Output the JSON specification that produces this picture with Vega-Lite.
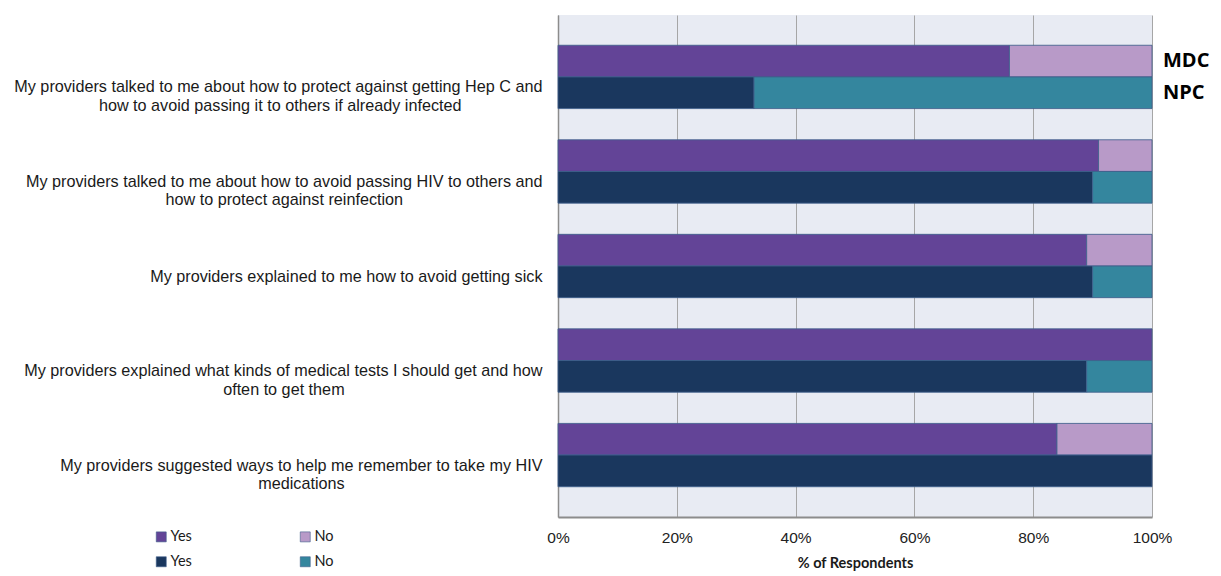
{
  "$schema": "https://vega.github.io/schema/vega-lite/v6.json",
  "width": 594,
  "height": 502,
  "autosize": {"type": "none"},
  "padding": {"left": 558, "top": 15, "right": 69, "bottom": 59},
  "background": "#ffffff",
  "config": {
    "font": "Liberation Sans",
    "view": {"fill": "#e8ebf3", "stroke": null}
  },
  "datasets": {
    "responses": [
      {"question": "My providers talked to me about how to protect against getting Hep C and|how to avoid passing it to others if already infected", "site": "MDC", "answer": "Yes", "series": "MDC Yes", "pct": 76},
      {"question": "My providers talked to me about how to protect against getting Hep C and|how to avoid passing it to others if already infected", "site": "MDC", "answer": "No", "series": "MDC No", "pct": 24},
      {"question": "My providers talked to me about how to protect against getting Hep C and|how to avoid passing it to others if already infected", "site": "NPC", "answer": "Yes", "series": "NPC Yes", "pct": 33},
      {"question": "My providers talked to me about how to protect against getting Hep C and|how to avoid passing it to others if already infected", "site": "NPC", "answer": "No", "series": "NPC No", "pct": 67},
      {"question": "My providers talked to me about how to avoid passing HIV to others and|how to protect against reinfection", "site": "MDC", "answer": "Yes", "series": "MDC Yes", "pct": 91},
      {"question": "My providers talked to me about how to avoid passing HIV to others and|how to protect against reinfection", "site": "MDC", "answer": "No", "series": "MDC No", "pct": 9},
      {"question": "My providers talked to me about how to avoid passing HIV to others and|how to protect against reinfection", "site": "NPC", "answer": "Yes", "series": "NPC Yes", "pct": 90},
      {"question": "My providers talked to me about how to avoid passing HIV to others and|how to protect against reinfection", "site": "NPC", "answer": "No", "series": "NPC No", "pct": 10},
      {"question": "My providers explained to me how to avoid getting sick", "site": "MDC", "answer": "Yes", "series": "MDC Yes", "pct": 89},
      {"question": "My providers explained to me how to avoid getting sick", "site": "MDC", "answer": "No", "series": "MDC No", "pct": 11},
      {"question": "My providers explained to me how to avoid getting sick", "site": "NPC", "answer": "Yes", "series": "NPC Yes", "pct": 90},
      {"question": "My providers explained to me how to avoid getting sick", "site": "NPC", "answer": "No", "series": "NPC No", "pct": 10},
      {"question": "My providers explained what kinds of medical tests I should get and how|often to get them", "site": "MDC", "answer": "Yes", "series": "MDC Yes", "pct": 100},
      {"question": "My providers explained what kinds of medical tests I should get and how|often to get them", "site": "NPC", "answer": "Yes", "series": "NPC Yes", "pct": 89},
      {"question": "My providers explained what kinds of medical tests I should get and how|often to get them", "site": "NPC", "answer": "No", "series": "NPC No", "pct": 11},
      {"question": "My providers suggested ways to help me remember to take my HIV|medications", "site": "MDC", "answer": "Yes", "series": "MDC Yes", "pct": 84},
      {"question": "My providers suggested ways to help me remember to take my HIV|medications", "site": "MDC", "answer": "No", "series": "MDC No", "pct": 16},
      {"question": "My providers suggested ways to help me remember to take my HIV|medications", "site": "NPC", "answer": "Yes", "series": "NPC Yes", "pct": 100}
    ],
    "sites": [
      {"question": "My providers talked to me about how to protect against getting Hep C and|how to avoid passing it to others if already infected", "site": "MDC"},
      {"question": "My providers talked to me about how to protect against getting Hep C and|how to avoid passing it to others if already infected", "site": "NPC"}
    ]
  },
  "layer": [
    {
      "data": {"name": "responses"},
      "mark": {"type": "bar", "stroke": "#3f5f8c", "strokeWidth": 1, "strokeOpacity": 0.85},
      "encoding": {
        "y": {
          "field": "question",
          "type": "nominal",
          "sort": null,
          "scale": {"paddingInner": 0.33, "paddingOuter": 0.32},
          "axis": {
            "title": null,
            "grid": false,
            "ticks": false,
            "domainColor": "#8c8c8c",
            "domainWidth": 1.5,
            "labelPadding": 16,
            "labelAlign": "right",
            "labelBaseline": "alphabetic",
            "labelOffset": 15.5,
            "labelFontSize": 16.2,
            "labelColor": "#1a1a1a",
            "labelLineHeight": 18.5,
            "labelLimit": 0,
            "labelOverlap": false,
            "labelExpr": "length(split(datum.label, '|')) > 1 ? [split(datum.label, '|')[0], split(datum.label, '|')[1] + pad('', length(split(datum.label, '|')[1]) > 40 ? 18 : (length(split(datum.label, '|')[1]) > 20 ? 31 : 44), '\u00a0') + '\u200b'] : datum.label"
          }
        },
        "yOffset": {
          "field": "site",
          "type": "nominal",
          "sort": ["MDC", "NPC"],
          "scale": {"paddingInner": 0, "paddingOuter": 0}
        },
        "x": {
          "field": "pct",
          "type": "quantitative",
          "stack": "zero",
          "scale": {"domain": [0, 100], "nice": false},
          "axis": {
            "title": "% of Respondents",
            "titleFont": "Lato",
            "titleFontWeight": "bold",
            "titleFontSize": 14.5,
            "titleColor": "#1a1a1a",
            "titlePadding": 11,
            "values": [0, 20, 40, 60, 80, 100],
            "labelExpr": "datum.value + '%'",
            "labelFontSize": 15.5,
            "labelColor": "#222222",
            "labelPadding": 13,
            "labelFlush": false,
            "ticks": false,
            "domainColor": "#8c8c8c",
            "domainWidth": 2,
            "grid": true,
            "gridColor": "#a6a6a6",
            "gridWidth": 1
          }
        },
        "color": {
          "field": "series",
          "type": "nominal",
          "scale": {
            "domain": ["MDC Yes", "MDC No", "NPC Yes", "NPC No"],
            "range": ["#634497", "#b89ac8", "#1a375e", "#34869e"]
          },
          "legend": {
            "title": null,
            "orient": "none",
            "legendX": -404,
            "legendY": 514.5,
            "columns": 2,
            "direction": "horizontal",
            "padding": 0,
            "symbolType": "square",
            "symbolSize": 100,
            "symbolStrokeWidth": 0.6,
            "labelFont": "Lato",
            "labelFontSize": 14.5,
            "labelColor": "#1a1a1a",
            "labelOffset": 2,
            "columnPadding": 106,
            "rowPadding": 10,
            "labelExpr": "split(datum.label, ' ')[1]"
          }
        },
        "order": {"field": "answer", "sort": "descending"}
      }
    },
    {
      "data": {"name": "sites"},
      "mark": {
        "type": "text",
        "align": "left",
        "baseline": "middle",
        "dx": 11,
        "font": "Open Sans",
        "fontWeight": "bold",
        "fontSize": 20,
        "color": "#000000"
      },
      "encoding": {
        "x": {"datum": 100, "type": "quantitative"},
        "y": {"field": "question", "type": "nominal", "sort": null},
        "yOffset": {"field": "site", "type": "nominal", "sort": ["MDC", "NPC"]},
        "text": {"field": "site"}
      }
    }
  ]
}
